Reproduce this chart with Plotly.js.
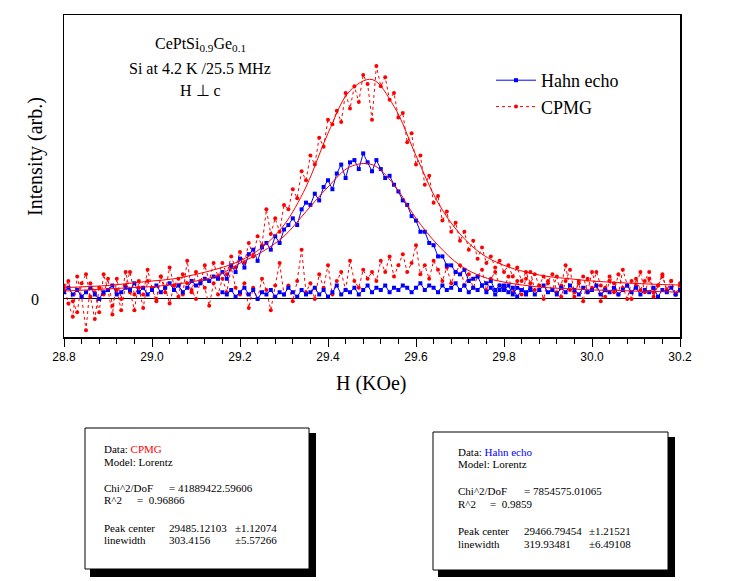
<!DOCTYPE html>
<html>
<head>
<meta charset="utf-8">
<script src="https://cdn.plot.ly/plotly-3.0.1.min.js"></script>
<style>html,body{margin:0;padding:0;background:#fff;}#chart{width:756px;height:581px;}</style>
</head>
<body>
<div id="chart"></div>
<script>
// ---------- DATA ----------
const fieldStep = 0.01;            // KOe, sweep step
const hahnPeakStart = 28.80;
const hahnPeakY = [
 0.03,0.05,0.02,0.04,0.01,0.03,0.05,0.02,0.00,0.03,
 0.04,0.06,0.02,0.03,0.05,0.04,0.07,0.03,0.05,0.02,
 0.04,0.06,0.03,0.05,0.07,0.04,0.06,0.03,0.05,0.08,
 0.06,0.07,0.09,0.08,0.10,0.09,
 0.12,0.09,0.15,0.12,0.18,0.14,0.20,0.22,0.17,0.23,
 0.25,0.22,0.28,0.25,0.31,0.33,0.36,0.33,0.40,0.43,
 0.42,0.47,0.44,0.50,0.53,0.49,0.56,0.60,0.54,0.61,
 0.62,0.58,0.65,0.61,0.57,0.62,0.58,0.54,0.55,0.51,
 0.48,0.44,0.42,0.37,0.35,0.30,0.30,0.25,0.24,0.19,
 0.19,0.15,0.15,0.12,0.11,0.13,0.08,0.09,0.10,0.06,
 0.07,0.08,0.04,0.06,0.04,0.06,0.02,0.05,0.04,0.02,
 0.04
];
const hahnBaseStart = 29.16;
const hahnBaseY = [
 0.03,0.02,0.04,0.01,0.03,0.05,0.02,0.04,0.00,0.03,
 0.02,0.04,0.01,0.03,0.02,0.05,0.03,0.01,0.04,0.02,
 0.03,0.05,0.02,0.04,0.01,0.03,0.06,0.02,0.04,0.03,
 0.05,0.02,0.04,0.06,0.03,0.05,0.04,0.06,0.03,0.05,
 0.04,0.06,0.05,0.03,0.05,0.07,0.04,0.06,0.05,0.03,
 0.06,0.04,0.05,0.07,0.04,0.06,0.03,0.05,0.04,0.06,
 0.03,0.05,0.02,0.04,0.06,0.03,0.05,0.01,0.04,0.03,
 0.05,0.02,0.04,0.06,0.03,0.04,0.02,0.05,0.03,0.06,
 0.04,0.02,0.05,0.03,0.04,0.06,0.02,0.04,0.03,0.05,
 0.02,0.04,0.06,0.03,0.05,0.02,0.04,0.03,0.05,0.01,
 0.04,0.03,0.05,0.02,0.04
];
const cpmgPeakStart = 28.80;
const cpmgPeakY = [
 0.06,-0.02,-0.08,0.10,0.01,-0.14,0.07,0.03,-0.06,0.11,
 0.04,-0.07,0.09,0.00,0.12,0.03,-0.05,0.08,0.02,0.13,
 0.05,-0.01,0.10,0.03,0.14,0.06,0.01,0.11,0.07,0.03,
 0.12,0.07,0.15,0.08,0.16,0.10,
 0.16,0.11,0.19,0.14,0.21,0.16,0.25,0.19,0.28,0.24,
 0.40,0.29,0.36,0.30,0.42,0.40,0.49,0.45,0.57,0.53,
 0.64,0.60,0.72,0.68,0.80,0.78,0.84,0.79,0.92,0.85,
 0.95,0.88,1.00,0.96,0.80,1.04,0.95,0.99,0.89,0.92,
 0.81,0.83,0.70,0.74,0.60,0.64,0.51,0.55,0.43,0.46,
 0.35,0.39,0.30,0.34,0.26,0.30,0.22,0.26,0.18,0.23,
 0.16,0.19,0.14,0.17,0.12,0.15,0.10,0.14,0.08,0.12,
 0.07,0.11,0.06,0.10,0.07,
 0.04,0.10,0.01,0.08,0.13,0.03,0.07,-0.01,0.09,0.05,
 0.12,0.06,0.01,0.08,0.03,0.11,0.05,0.00,0.08,0.06,
 0.12,0.03,0.09,0.01,0.06,0.10,0.04,0.08,0.02,0.07
];
const cpmgBaseStart = 28.80;
const cpmgBaseY = [
 0.04,0.08,-0.01,-0.06,0.07,0.11,0.01,-0.09,0.05,0.02,
 0.09,-0.03,0.04,-0.05,0.06,0.12,0.02,0.05,-0.04,0.08,
 0.04,0.00,0.10,0.05,-0.02,0.06,0.09,0.02,0.17,0.04,
 0.00,0.08,0.05,-0.03,0.07,0.02,0.09,0.03,0.14,0.05,
 0.02,0.07,-0.04,0.05,0.00,0.09,0.04,-0.05,0.06,0.16,
 0.02,0.06,-0.01,0.08,0.22,0.03,0.07,0.00,0.11,0.05,
 0.15,0.02,0.08,0.12,0.04,0.17,0.08,0.05,0.13,0.09,
 0.12,0.08,0.17,0.12,0.19,0.10,0.15,0.20,0.12,0.16,
 0.24,0.11,0.15,0.09,0.17,0.13,0.08,0.14,0.07,0.12,
 0.15,0.06,0.11,0.05,0.10,0.13,0.04,0.09,0.12,0.06,
 0.05,0.10,0.03,0.08,0.02,0.09,0.12,0.04,0.06,0.00,
 0.08,0.11,0.03,0.06,0.15,0.04,0.01,0.08,0.10,0.03,
 0.12,0.06,-0.01,0.05,0.10,0.07,0.02,0.13,0.06,0.00,
 0.09,0.04,0.08,0.12,0.03,0.06,0.11,0.04,0.08,0.02,
 0.06
];
// Lorentz fit curves
const fitX = [28.80,28.85,28.90,28.95,29.00,29.05,29.10,29.15,29.20,29.25,29.30,29.35,29.40,29.45,29.50,
              29.55,29.60,29.65,29.70,29.75,29.80,29.85,29.90,29.95,30.00,30.05,30.10,30.15,30.20];
const cpmgFitY = [0.050,0.055,0.060,0.070,0.080,0.090,0.110,0.135,0.170,0.230,0.330,0.500,0.740,0.930,0.980,
                  0.860,0.640,0.430,0.290,0.200,0.150,0.120,0.100,0.090,0.080,0.074,0.069,0.065,0.062];
const hahnFitY = [0.035,0.040,0.045,0.050,0.055,0.065,0.080,0.105,0.160,0.210,0.280,0.390,0.500,0.590,0.600,
                  0.510,0.360,0.240,0.150,0.100,0.075,0.060,0.050,0.045,0.040,0.038,0.035,0.033,0.030];
const xTickVals = [28.8,29.0,29.2,29.4,29.6,29.8,30.0,30.2];
const xTickText = ['28.8','29.0','29.2','29.4','29.6','29.8','30.0','30.2'];

// ---------- BUILD ----------
function fields(start, n){ const a=[]; for(let i=0;i<n;i++) a.push(+(start+i*fieldStep).toFixed(3)); return a; }
const L=64, R=680, T=15, B=337;
const px = x => (x-L)/(R-L);
const py = y => (B-y)/(B-T);

const red='#ff0000', blue='#0000ff';
const cpmgStyle = {mode:'lines+markers', line:{color:red,width:1,dash:'dot'}, marker:{color:red,size:4,symbol:'circle'}};
const hahnStyle = {mode:'lines+markers', line:{color:blue,width:1}, marker:{color:blue,size:4,symbol:'square'}};

const traces = [
 Object.assign({x:fields(cpmgBaseStart,cpmgBaseY.length), y:cpmgBaseY, name:'CPMG', legendgroup:'c', showlegend:false}, cpmgStyle),
 Object.assign({x:fields(cpmgPeakStart,cpmgPeakY.length), y:cpmgPeakY, name:'CPMG', legendgroup:'c', showlegend:true, legendrank:2}, cpmgStyle),
 Object.assign({x:fields(hahnBaseStart,hahnBaseY.length), y:hahnBaseY, name:'Hahn echo', legendgroup:'h', showlegend:false}, hahnStyle),
 Object.assign({x:fields(hahnPeakStart,hahnPeakY.length), y:hahnPeakY, name:'Hahn echo', legendgroup:'h', showlegend:true, legendrank:1}, hahnStyle),
 {x:fitX, y:cpmgFitY, mode:'lines', line:{color:red,width:1,shape:'spline'}, showlegend:false, hoverinfo:'skip'},
 {x:fitX, y:hahnFitY, mode:'lines', line:{color:red,width:1,shape:'spline'}, showlegend:false, hoverinfo:'skip'}
];

const serif = 'Liberation Serif, Times New Roman, serif';
const sans = 'Liberation Sans, Arial, sans-serif';
const ann = [];
function txt(text,x,y,size,opts){ ann.push(Object.assign({text:text, xref:'paper', yref:'paper', x:px(x), y:py(y), showarrow:false,
   xanchor:'left', yanchor:'middle', font:{family:serif,size:size,color:'#000'}}, opts||{})); }
// header
txt('CePtSi<sub>0.9</sub>Ge<sub>0.1</sub>', 200, 45, 16, {xanchor:'center'});
txt('Si at 4.2 K /25.5 MHz', 200, 68, 16, {xanchor:'center'});
txt('H ⊥ c', 200, 90, 16, {xanchor:'center'});
// axis titles
txt('Intensity (arb.)', 35, 157, 20, {xanchor:'center', textangle:-90});
txt('H (KOe)', 371, 383, 20, {xanchor:'center'});
txt('0', 41, 299, 16, {xanchor:'right'});
// box 1
txt('Data: <span style="color:#ff0000">CPMG</span>', 102, 449, 11);
txt('Model: Lorentz', 102, 462, 11);
txt('Chi^2/DoF', 102, 488, 11); txt('= 41889422.59606', 167, 488, 11);
txt('R^2', 102, 500, 11); txt('=  0.96866', 135, 500, 11);
txt('Peak center', 102, 528, 11); txt('29485.12103', 167, 528, 11); txt('±1.12074', 233, 528, 11);
txt('linewidth', 102, 540, 11); txt('303.4156', 167, 540, 11); txt('±5.57266', 233, 540, 11);
// box 2
txt('Data: <span style="color:#0000ff">Hahn echo</span>', 456, 452, 11);
txt('Model: Lorentz', 456, 464, 11);
txt('Chi^2/DoF', 456, 491, 11); txt('= 7854575.01065', 522, 491, 11);
txt('R^2', 456, 504, 11); txt('=  0.9859', 488, 504, 11);
txt('Peak center', 456, 531, 11); txt('29466.79454', 522, 531, 11); txt('±1.21521', 587, 531, 11);
txt('linewidth', 456, 544, 11); txt('319.93481', 522, 544, 11); txt('±6.49108', 587, 544, 11);

function rect(x0,y0,x1,y1,fill,lw){ return {type:'rect', xref:'paper', yref:'paper', x0:px(x0), x1:px(x1), y0:py(y0), y1:py(y1),
   fillcolor:fill, line:{color:'#000',width:lw}, layer:'above'}; }
const shapes = [
 rect(90,433,316,577,'#000',0), rect(85,428,309,569,'#fff',1),
 rect(438,437,675,577,'#000',0), rect(433,432,668,570,'#fff',1)
];

const layout = {
 width:756, height:581,
 margin:{l:L, r:756-R, t:T, b:581-B, pad:0},
 paper_bgcolor:'#fff', plot_bgcolor:'#fff',
 showlegend:true,
 legend:{x:px(491), y:py(62), xanchor:'left', yanchor:'top', bgcolor:'rgba(0,0,0,0)', borderwidth:0,
         font:{family:serif, size:18, color:'#000'}, tracegroupgap:0, itemwidth:40},
 xaxis:{range:[28.8,30.2], tickvals:xTickVals, ticktext:xTickText, ticks:'outside', ticklen:8, tickwidth:1, tickcolor:'#000',
        minor:{dtick:0.04, tick0:28.8, ticks:'outside', ticklen:5, tickwidth:1, tickcolor:'#000', showgrid:false},
        showline:true, linecolor:'#000', linewidth:1.5, mirror:true, showgrid:false, zeroline:false,
        tickfont:{family:sans, size:12, color:'#000'}},
 yaxis:{range:[-0.17,1.268], showticklabels:false, ticks:'', showline:true, linecolor:'#000', linewidth:1.5, mirror:true,
        showgrid:false, zeroline:true, zerolinecolor:'#000', zerolinewidth:1},
 annotations:ann, shapes:shapes
};
Plotly.newPlot('chart', traces, layout, {displayModeBar:false, staticPlot:true});
</script>
</body>
</html>
